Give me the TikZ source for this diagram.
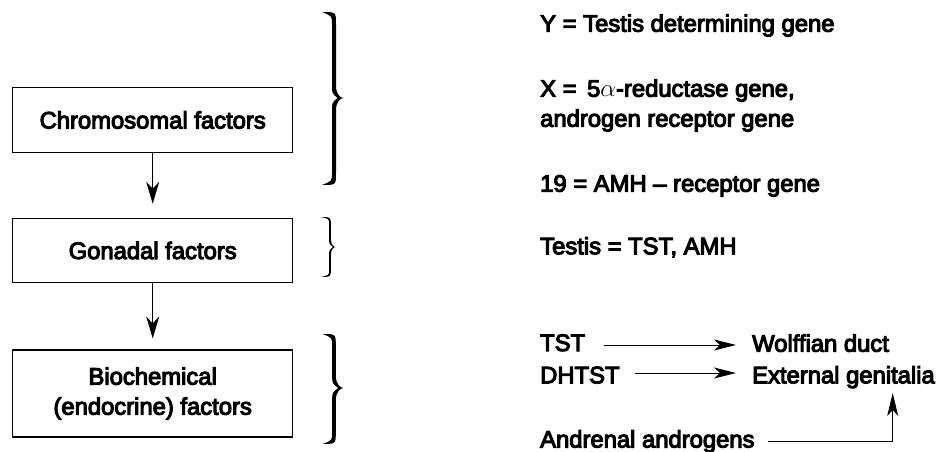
\documentclass[tikz,border=0pt]{standalone}
\usepackage{fontspec}
\setmainfont{Liberation Sans}[FakeBold=4.5]
\usetikzlibrary{arrows.meta,calc}
\newcommand{\mybrace}[8]{% x0 xs xt yt ym yb d h
\pgfmathsetmacro{\bR}{#2+#7}\pgfmathsetmacro{\bL}{#2-#7}%
\pgfmathsetmacro{\bN}{#3-3*#7}\pgfmathsetmacro{\bC}{#3-0.3*(#3-#2)}%
\fill (#1,#4) .. controls (\bR,#4) .. (\bR,{#4+#8}) -- (\bR,{#5-#8})
 .. controls (\bR,{#5-0.3*#8}) and (\bC,#5) .. (#3,#5)
 .. controls (\bC,#5) and (\bR,{#5+0.3*#8}) .. (\bR,{#5+#8})
 -- (\bR,{#6-#8}) .. controls (\bR,#6) .. (#1,#6)
 .. controls (\bL,{#6-2*#7}) .. (\bL,{#6-#8}) -- (\bL,{#5+#8})
 .. controls (\bL,{#5+0.4*#8}) .. (\bN,#5)
 .. controls (\bL,{#5-0.4*#8}) .. (\bL,{#5-#8}) -- (\bL,{#4+#8})
 .. controls (\bL,{#4+2*#7}) .. (#1,#4) -- cycle;}
\begin{document}
\begin{tikzpicture}[x=1pt,y=-1pt,
  font=\fontsize{23.8}{30}\selectfont,
  box/.style={draw,line width=1.1pt,minimum width=280pt,inner sep=0pt,align=center},
  txt/.style={anchor=base west,inner sep=0pt},
  varr/.style={line width=1pt,-{Stealth[length=22pt,width=13pt,inset=7pt]}},
  harr/.style={line width=1pt,-{Stealth[length=22pt,width=11pt,inset=6pt]}}]
\useasboundingbox (0,0) rectangle (943,452);
% left boxes
\node[box,minimum height=64.6pt] (chrom) at (152.7,120) {Chromosomal factors};
\node[box,minimum height=64.4pt] (gon) at (152.7,250.5) {Gonadal factors};
\node[box,minimum height=87pt] (bio) at (152.7,393.5) {Biochemical\\(endocrine) factors};
\draw[varr,shorten >=14pt] (chrom.south) -- (gon.north);
\draw[varr,shorten >=11pt] (gon.south) -- (bio.north);
% braces
\mybrace{322}{334}{343.5}{12}{98}{185}{2}{12}
\mybrace{320.5}{330}{335.5}{217}{247}{277}{0.85}{8}
\mybrace{322.5}{334}{343.5}{334}{388}{444}{1.8}{12}
% right texts
\node[txt] (y) at (540,31.7) {Y = Testis determining gene};
\node[txt] (x) at (540,96.7) {X = \,5$\alpha$-reductase gene,};
\node[txt] (andr) at (540,126.7) {androgen receptor gene};
\node[txt] (n19) at (540,191.7) {19 = AMH -- receptor gene};
\node[txt] (testis) at (540,254.3) {Testis = TST, AMH};
\node[txt] (tst) at (540,351) {TST};
\node[txt] (dhtst) at (540,383.3) {DHTST};
\node[txt] (adr) at (540,447.5) {Andrenal androgens};
\node[txt] (wolf) at (752,351.7) {Wolffian duct};
\node[txt] (ext) at (752,383.3) {External genitalia};
\coordinate (a1) at (604,345);
\coordinate (a2) at (635,373);
\coordinate (a3) at (768,441.7);
\coordinate (a3e) at (892.7,393);
\draw[harr,shorten >=16pt] (a1) -- (a1 -| wolf.west);
\draw[harr,shorten >=16pt] (a2) -- (a2 -| ext.west);
\draw[line width=1pt,-{Stealth[length=23pt,width=11pt,inset=6pt]}] (a3) -| (a3e);
\end{tikzpicture}
\end{document}
